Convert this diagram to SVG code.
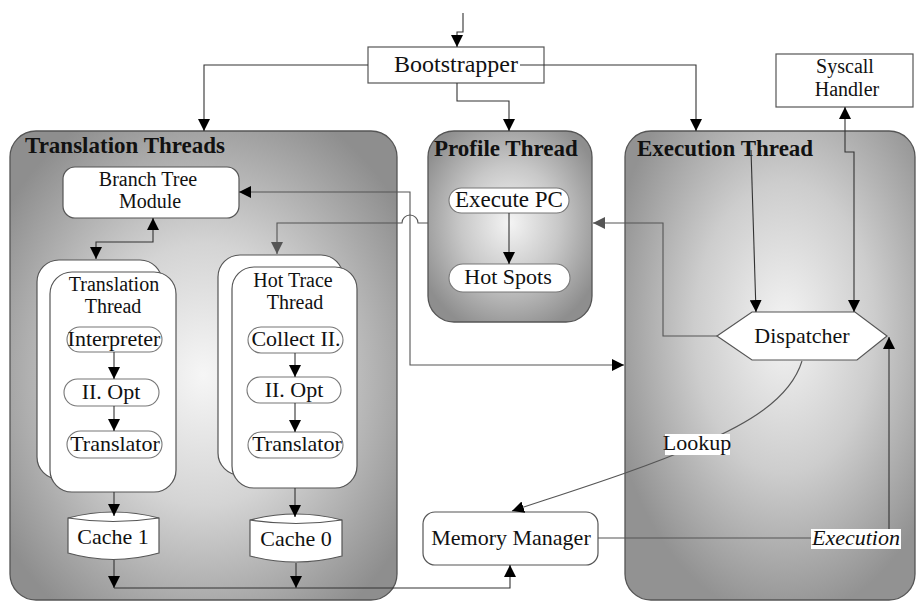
<svg xmlns="http://www.w3.org/2000/svg" width="917" height="602" viewBox="0 0 917 602">
<defs>
  <radialGradient id="g1" cx="0.5" cy="0.52" r="0.62">
    <stop offset="0" stop-color="#f6f6f6"/>
    <stop offset="0.45" stop-color="#d4d4d4"/>
    <stop offset="1" stop-color="#8e8e8e"/>
  </radialGradient>
  <radialGradient id="g2" cx="0.5" cy="0.48" r="0.6">
    <stop offset="0" stop-color="#f4f4f4"/>
    <stop offset="0.5" stop-color="#c8c8c8"/>
    <stop offset="1" stop-color="#8e8e8e"/>
  </radialGradient>
  <radialGradient id="g3" cx="0.55" cy="0.42" r="0.62">
    <stop offset="0" stop-color="#f4f4f4"/>
    <stop offset="0.5" stop-color="#cdcdcd"/>
    <stop offset="1" stop-color="#929292"/>
  </radialGradient>
  <marker id="ah" viewBox="0 0 10 10" refX="10" refY="5" markerWidth="12" markerHeight="12" markerUnits="userSpaceOnUse" orient="auto-start-reverse">
    <path d="M0,0 L10,5 L0,10 Z" fill="#000"/>
  </marker>
  <marker id="ahg" viewBox="0 0 10 10" refX="10" refY="5" markerWidth="12" markerHeight="12" markerUnits="userSpaceOnUse" orient="auto-start-reverse">
    <path d="M0,0 L10,5 L0,10 Z" fill="#555"/>
  </marker>
</defs>
<style>
  text { font-family: "Liberation Serif", "Times New Roman", serif; font-size: 22px; fill: #111; }
  .c { text-anchor: middle; }
  .t2 { font-size: 20px; }
  .title { font-weight: bold; font-size: 23px; }
  .it { font-style: italic; }
  .cont { stroke: #555; stroke-width: 1.3; }
  .box { fill: #fff; stroke: #555; stroke-width: 1.2; }
  .pill { fill: #fff; stroke: #777; stroke-width: 1.1; }
  .ln { fill: none; stroke: #333; stroke-width: 1.1; }
  .lng { fill: none; stroke: #555; stroke-width: 1.1; }
</style>

<g id="translation-threads">
  <rect class="cont" x="10" y="131" width="387" height="469" rx="26" fill="url(#g1)"/>
  <text class="title" x="25" y="153">Translation Threads</text>
</g>
<g id="profile-thread">
  <rect class="cont" x="428" y="131" width="164" height="191" rx="26" fill="url(#g2)"/>
  <text class="title" x="434" y="156">Profile Thread</text>
</g>
<g id="execution-thread">
  <rect class="cont" x="625" y="131" width="290" height="469" rx="26" fill="url(#g3)"/>
  <text class="title" x="637" y="156">Execution Thread</text>
</g>

<g id="bootstrapper">
  <rect class="box" x="368" y="47" width="176" height="36"/>
  <text class="c" x="456" y="72" style="font-size:24px">Bootstrapper</text>
</g>
<g id="syscall-handler">
  <rect class="box" x="776" y="54" width="137" height="53"/>
  <text class="c t2" x="845" y="73">Syscall</text>
  <text class="c t2" x="847" y="96">Handler</text>
</g>
<g id="branch-tree-module">
  <rect class="box" x="63" y="167" width="176" height="51" rx="12"/>
  <text class="c t2" x="148" y="186">Branch Tree</text>
  <text class="c t2" x="150" y="208">Module</text>
</g>
<g id="translation-thread">
  <rect class="box" x="37" y="260" width="125" height="219" rx="22"/>
  <rect class="box" x="50" y="272" width="126" height="220" rx="22"/>
  <text class="c t2" x="114" y="291">Translation</text>
  <text class="c t2" x="113" y="313">Thread</text>
</g>
<g id="interpreter">
  <rect class="pill" x="67" y="327" width="95" height="25" rx="12.5"/>
  <text class="c" x="114" y="346">Interpreter</text>
</g>
<g id="il-opt-1">
  <rect class="pill" x="64" y="379" width="95" height="27" rx="13.5"/>
  <text class="c" x="111" y="399">II. Opt</text>
</g>
<g id="translator-1">
  <rect class="pill" x="67" y="431" width="95" height="27" rx="13.5"/>
  <text class="c" x="115" y="451">Translator</text>
</g>
<g id="hot-trace-thread">
  <rect class="box" x="218" y="255" width="125" height="220" rx="22"/>
  <rect class="box" x="232" y="267" width="125" height="221" rx="22"/>
  <text class="c t2" x="293" y="287">Hot Trace</text>
  <text class="c t2" x="295" y="309">Thread</text>
</g>
<g id="collect-il">
  <rect class="pill" x="248" y="327" width="95" height="26" rx="13"/>
  <text class="c" x="296" y="346">Collect II.</text>
</g>
<g id="il-opt-2">
  <rect class="pill" x="247" y="377" width="94" height="26" rx="13"/>
  <text class="c" x="294" y="397">II. Opt</text>
</g>
<g id="translator-2">
  <rect class="pill" x="248" y="432" width="95" height="26" rx="13"/>
  <text class="c" x="297" y="451">Translator</text>
</g>
<g id="cache-1">
  <path class="box" d="M68,518 Q113,506 159,518 L159,553 Q113,566 68,553 Z"/>
  <path class="lng" d="M68,518 Q113,525 159,518"/>
  <text class="c" x="113" y="544">Cache 1</text>
</g>
<g id="cache-0">
  <path class="box" d="M250,520 Q296,508 342,520 L342,556 Q296,568 250,556 Z"/>
  <path class="lng" d="M250,520 Q296,527 342,520"/>
  <text class="c" x="296" y="546">Cache 0</text>
</g>
<g id="execute-pc">
  <rect class="pill" x="449" y="188" width="120" height="25" rx="12.5"/>
  <text class="c" x="509" y="207" style="font-size:23px">Execute PC</text>
</g>
<g id="hot-spots">
  <rect class="pill" x="449" y="264" width="121" height="28" rx="14"/>
  <text class="c" x="508" y="284">Hot Spots</text>
</g>
<g id="memory-manager">
  <rect class="box" x="423" y="512" width="175" height="53" rx="12"/>
  <text class="c" x="511" y="545">Memory Manager</text>
</g>
<g id="dispatcher">
  <polygon class="box" points="717,336 752,312 855,312 887,336 857,360 752,360"/>
  <text class="c" x="802" y="343">Dispatcher</text>
</g>

<g id="connectors">
  <path class="ln" d="M463,13 V32 H457 V47" marker-end="url(#ah)"/>
  <path class="ln" d="M368,65 H204 V131" marker-end="url(#ah)"/>
  <path class="ln" d="M457,83 V101 H509 V131" marker-end="url(#ah)"/>
  <path class="ln" d="M520,65 H696 V131" marker-end="url(#ah)"/>
  <path class="lng" d="M239,192 H410 V365 H624" marker-start="url(#ah)" marker-end="url(#ah)"/>
  <path class="lng" d="M717,336 H663 V223 H593" marker-end="url(#ahg)"/>
  <path class="lng" d="M428,223 H418 A8,8 0 0 0 402,223 H277 V254" marker-end="url(#ahg)"/>
  <path class="ln" d="M153,218 V242 H96 V259" marker-start="url(#ah)" marker-end="url(#ah)"/>
  <path class="ln" d="M114,352 V379" marker-end="url(#ah)"/>
  <path class="ln" d="M114,406 V431" marker-end="url(#ah)"/>
  <path class="ln" d="M114,492 V516" marker-end="url(#ah)"/>
  <path class="ln" d="M295,353 V377" marker-end="url(#ah)"/>
  <path class="ln" d="M295,403 V432" marker-end="url(#ah)"/>
  <path class="ln" d="M295,488 V517" marker-end="url(#ah)"/>
  <path class="ln" d="M114,560 V588" marker-end="url(#ah)"/>
  <path class="ln" d="M296,563 V588" marker-end="url(#ah)"/>
  <path class="ln" d="M114,588 H510 V565" marker-end="url(#ah)"/>
  <path class="ln" d="M509,213 V264" marker-end="url(#ah)"/>
  <path class="ln" d="M751,150 L756,312" marker-end="url(#ah)"/>
  <path class="ln" d="M845,107 V152 H854 V312" marker-start="url(#ah)" marker-end="url(#ah)"/>
  <path class="lng" d="M802,361 C790,400 745,425 700,444 C640,470 575,490 512,511" marker-end="url(#ah)"/>
  <path class="lng" d="M598,538 H812"/>
  <path class="ln" d="M889,530 V337" marker-end="url(#ah)"/>
</g>

<g id="lookup-label">
  <rect x="665" y="434" width="65" height="21" fill="#fff"/>
  <text class="c" x="697" y="450">Lookup</text>
</g>
<g id="execution-label">
  <rect x="811" y="529" width="90" height="20" fill="#fff"/>
  <text class="c it" x="856" y="545">Execution</text>
</g>
</svg>
